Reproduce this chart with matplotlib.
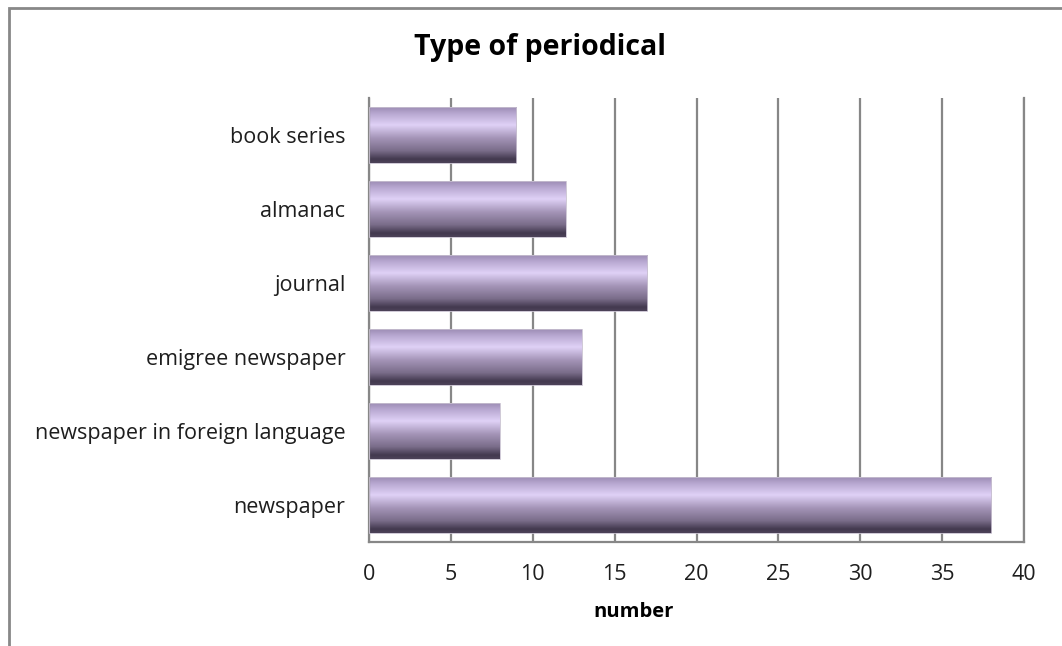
import matplotlib
matplotlib.use("Agg")
import matplotlib.pyplot as plt
import numpy as np
from matplotlib.colors import LinearSegmentedColormap
from matplotlib.patches import Rectangle

categories = ["newspaper", "newspaper in foreign language", "emigree newspaper",
              "journal", "almanac", "book series"]
values = [38, 8, 13, 17, 12, 9]
x_ticks = [0, 5, 10, 15, 20, 25, 30, 35, 40]

plt.rcParams["font.family"] = ["Open Sans", "DejaVu Sans"]

fig = plt.figure(figsize=(10.62, 6.46), dpi=100)
ax = fig.add_axes([369 / 1062, 1 - 542 / 646, (1024 - 369) / 1062, (542 - 98) / 646])

# vertical shading for the bars: light band near the top, dark at the bottom
bar_cmap = LinearSegmentedColormap.from_list(
    "bar_shade",
    [(0.0, "#9c8cb4"), (0.12, "#b9a9d2"), (0.32, "#dfd1f6"), (0.55, "#a595b8"),
     (0.78, "#7a6d8a"), (0.93, "#43394f"), (1.0, "#4d4359")])
shade = np.linspace(0, 1, 256).reshape(-1, 1)

bar_h = 0.75
grid_color = "#878787"
for xv in x_ticks:
    ax.axvline(xv, color=grid_color, lw=1.6, zorder=1)

for i, (cat, val) in enumerate(zip(categories, values)):
    y0, y1 = i - bar_h / 2, i + bar_h / 2
    ax.imshow(shade, cmap=bar_cmap, aspect="auto", extent=(0, val, y0, y1),
              origin="upper", zorder=2, interpolation="bilinear")
    ax.add_patch(Rectangle((0, y0), val, bar_h, fill=False, edgecolor="#c8c0d0",
                           lw=0.6, zorder=3))

ax.set_xlim(0, 40)
ax.set_ylim(-0.5, len(categories) - 0.5)
ax.set_xticks(x_ticks)
ax.set_xticklabels([str(t) for t in x_ticks], fontsize=15.5, color="#1e1e1e")
ax.set_yticks(range(len(categories)))
ax.set_yticklabels(categories, fontsize=15.5, color="#1e1e1e")
ax.tick_params(axis="both", length=0)
ax.tick_params(axis="x", pad=16)
ax.tick_params(axis="y", pad=17)

for side in ("left", "bottom", "right"):
    ax.spines[side].set_color(grid_color)
    ax.spines[side].set_linewidth(1.6)
ax.spines["top"].set_visible(False)

fig.text(634 / 1062, 1 - 612 / 646, "number", fontsize=14.5, fontweight="bold",
         ha="center", va="center")
fig.text(540 / 1062, 1 - 47 / 646, "Type of periodical", fontsize=20.5,
         fontweight="bold", ha="center", va="center")

# outer chart border
fig.add_artist(Rectangle((9 / 1062, -0.05), 1.1, 1 - 8 / 646 + 0.05,
                         transform=fig.transFigure, fill=False,
                         edgecolor="#888888", lw=2))

fig.savefig("out.png", dpi=100)
